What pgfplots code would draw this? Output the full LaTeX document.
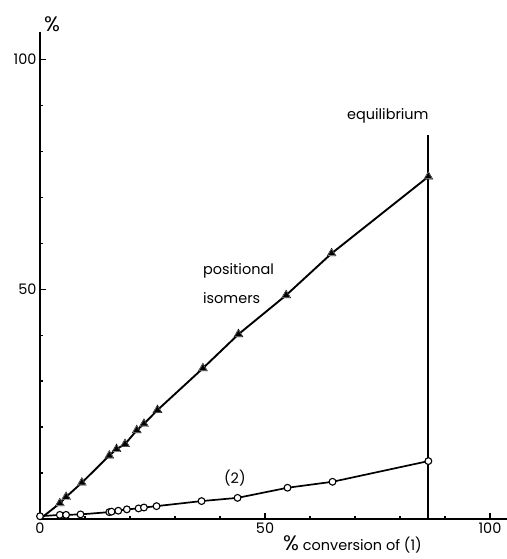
\documentclass[border=0pt]{standalone}
\usepackage{fontspec}
\setmainfont{Poppins}
\usepackage{pgfplots}
\pgfplotsset{compat=1.18}
\pgfplotstableread{
x y
4.4 3.4
5.8 4.8
9.3 7.9
15.4 13.8
17.0 15.2
18.9 16.3
21.5 19.3
23.1 20.7
26.1 23.7
36.2 32.8
44.1 40.2
54.7 48.7
64.8 57.8
86.3 74.5
}\isomers
\pgfplotstableread{
x y
0 0.6
4.4 0.9
5.8 0.9
9.0 1.0
15.4 1.5
15.9 1.6
17.4 1.8
19.3 2.1
21.9 2.3
23.1 2.5
25.9 2.8
35.9 3.9
43.9 4.6
55.0 6.8
65.0 8.1
86.3 12.6
}\two
\begin{document}
\begin{tikzpicture}
\begin{axis}[
 scale only axis, width=468bp, height=487.1bp,
 xmin=0, xmax=104, ymin=0, ymax=106,
 axis x line=bottom, axis y line=left,
 axis line style={-, line width=1.6bp},
 xtick={0,50,100}, ytick={50,100},
 minor xtick={10,20,30,40,60,70,80,90},
 minor ytick={10,20,30,40,60,70,80,90},
 tick align=inside, major tick length=6bp, minor tick length=3bp,
 every tick/.style={line width=1.3bp, black},
 /pgf/number format/assume math mode=true,
 ticklabel style={font=\fontsize{14.5}{14.5}\selectfont},
 clip=false,
]
\addplot[black, line width=1.9bp] table {\isomers};
\addplot[black, line width=1.9bp] coordinates {(0,0) (4.4,3.4)};
\addplot[only marks, mark=triangle*, mark size=5.2bp, mark options={draw=none, fill=white}] table {\isomers};
\addplot[only marks, mark=triangle*, mark size=3.7bp, mark options={draw=black, fill=black, line width=0.4bp}] table {\isomers};
\addplot[black, line width=1.7bp, mark=*, mark size=3.4bp, mark options={draw=black, fill=white, line width=1.1bp}] table {\two};
\addplot[black, line width=1.9bp] coordinates {(86.3,0) (86.3,83.5)};
\coordinate (O) at (axis cs:0,0);
\node[font=\fontsize{21}{21}\selectfont] at (axis cs:2.7,107.7) {\%};
\node[anchor=base west, inner sep=0pt, font=\fontsize{14.5}{14.5}\selectfont] at (axis cs:54.0,-6.8) {{\fontsize{21}{21}\selectfont\%} conversion of (1)};
\node[anchor=base east, inner sep=0pt, font=\fontsize{14.5}{14.5}\selectfont] at (axis cs:86.4,87.0) {equilibrium};
\node[anchor=base west, inner sep=0pt, font=\fontsize{14.5}{14.5}\selectfont] at (axis cs:36.2,53.1) {positional};
\node[anchor=base west, inner sep=0pt, font=\fontsize{14.5}{14.5}\selectfont] at (axis cs:36.2,47.0) {isomers};
\node[anchor=base, inner sep=0pt, font=\fontsize{14.5}{14.5}\selectfont] at (axis cs:43.3,7.8) {(2)};
\end{axis}
\pgfresetboundingbox
\path ([shift={(-40bp,-40bp)}]O) rectangle ([shift={(467bp,519bp)}]O);
\end{tikzpicture}
\end{document}
